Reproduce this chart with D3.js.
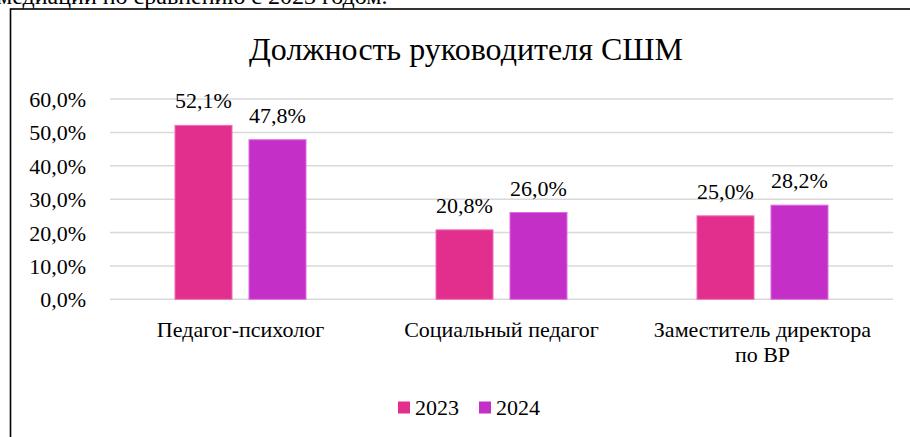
<!DOCTYPE html>
<html>
<head>
<meta charset="utf-8">
<script src="https://cdn.jsdelivr.net/npm/d3@7"></script>
</head>
<body style="margin:0; background:#fff; font-family:'Liberation Serif', serif">
<div id="pagetext" style="position:absolute; left:-3px; top:-16px; font-family:'Liberation Serif'; font-size:24px; line-height:24px; white-space:nowrap">медиации по сравнению с 2023 годом.</div>
<svg id="chart" width="910" height="437" style="position:absolute; left:0; top:0; font-family:'Liberation Serif'"></svg>
<script>
// DATA //
const categories = ["Педагог-психолог", "Социальный педагог", "Заместитель директора\nпо ВР"]
const series = ["2023", "2024"]
const values2023 = [0.521, 0.208, 0.250]
const values2024 = [0.478, 0.260, 0.282]
const yTicks = [0, 0.1, 0.2, 0.3, 0.4, 0.5, 0.6]
const colors = ["#E22F8E", "#C42FC8"]
const strokes = ["#F26DB4", "#DB6EE0"]

const svg = d3.select("#chart")
const fmt = d => d3.format(".1f")(d * 100).replace(".", ",") + "%"

// chart frame
svg.append("rect")
  .attr("x", 10.5).attr("y", 9)
  .attr("width", 920).attr("height", 460)
  .attr("fill", "none").attr("stroke", "#000").attr("stroke-width", 1.6)

// TITLE //
svg.append("text")
  .attr("x", 466).attr("y", 60)
  .attr("text-anchor", "middle")
  .attr("font-size", 32)
  .text("Должность руководителя СШМ")

// SCALES //
const x = d3.scaleBand().domain(categories).range([110, 893]).padding(0)
const xs = d3.scaleBand().domain(series).range([64.5, 196.5]).paddingInner(0.216)
const y = d3.scaleLinear().domain([0, 0.6]).range([299.3, 99])

// grid
svg.append("g")
  .selectAll("line")
  .data(yTicks)
  .enter()
  .append("line")
  .attr("x1", 110).attr("x2", 893)
  .attr("y1", d => y(d)).attr("y2", d => y(d))
  .attr("stroke", "#d9d9d9").attr("stroke-width", 1.5)

// y axis labels
svg.append("g")
  .selectAll("text")
  .data(yTicks)
  .enter()
  .append("text")
  .attr("x", 86)
  .attr("y", d => y(d) + 8)
  .attr("text-anchor", "end")
  .attr("font-size", 22)
  .text(d => fmt(d))

// BARS //
const rows = categories.map((c, i) => ({cat: c, vals: [values2023[i], values2024[i]]}))

const groups = svg.selectAll(".grp")
  .data(rows)
  .enter()
  .append("g")
  .attr("class", "grp")
  .attr("transform", d => `translate(${x(d.cat)},0)`)

groups.selectAll("rect")
  .data(d => d.vals.map((v, j) => ({s: series[j], v: v, j: j})))
  .enter()
  .append("rect")
  .attr("x", d => xs(d.s) + 0.5)
  .attr("y", d => y(d.v))
  .attr("width", xs.bandwidth() - 1)
  .attr("height", d => y(0) - y(d.v))
  .attr("fill", d => colors[d.j])
  .attr("stroke", d => strokes[d.j])
  .attr("stroke-width", 1)

groups.selectAll("text.lbl")
  .data(d => d.vals.map((v, j) => ({s: series[j], v: v})))
  .enter()
  .append("text")
  .attr("class", "lbl")
  .attr("x", d => xs(d.s) + xs.bandwidth() / 2)
  .attr("y", d => y(d.v) - 17)
  .attr("text-anchor", "middle")
  .attr("font-size", 22)
  .text(d => fmt(d.v))

// category labels
const catText = svg.append("g")
  .selectAll("text")
  .data(categories)
  .enter()
  .append("text")
  .attr("x", d => x(d) + x.bandwidth() / 2)
  .attr("y", 336.7)
  .attr("text-anchor", "middle")
  .attr("font-size", 22)

catText.selectAll("tspan")
  .data(d => d.split("\n"))
  .enter()
  .append("tspan")
  .attr("x", function(){ return d3.select(this.parentNode).attr("x") })
  .attr("dy", (d, i) => i === 0 ? 0 : 25)
  .text(d => d)

// LEGEND //
const legendX = [398, 479]
const legend = svg.append("g")
  .selectAll("g")
  .data(series)
  .enter()
  .append("g")
  .attr("transform", (d, i) => `translate(${legendX[i]},0)`)

legend.append("rect")
  .attr("x", 0).attr("y", 401.5)
  .attr("width", 12).attr("height", 12)
  .attr("fill", (d, i) => colors[i])

legend.append("text")
  .attr("x", 17).attr("y", 415)
  .attr("font-size", 22)
  .text(d => d)

// serif font on every text
svg.selectAll("text")
  .attr("font-family", "Liberation Serif")
  .style("font-family", "'Liberation Serif', serif")
</script>
</body>
</html>
